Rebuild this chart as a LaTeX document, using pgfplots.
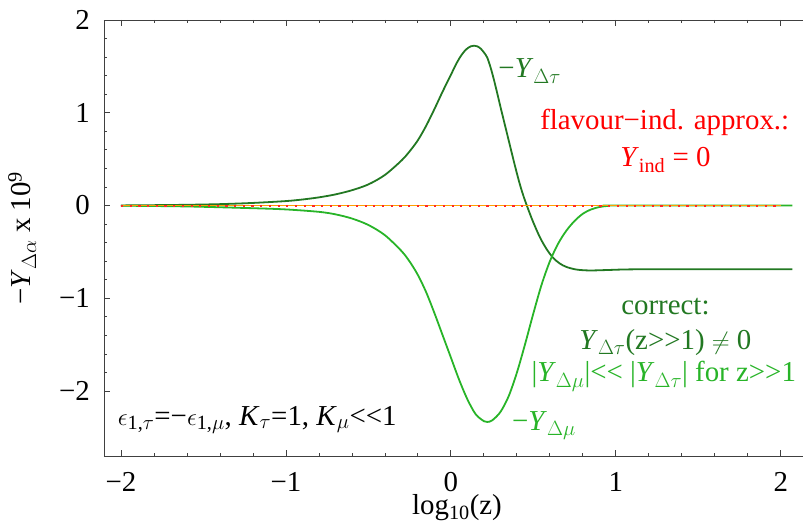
\documentclass[border=0pt]{standalone}
\usepackage{fontspec}
\setmainfont{Liberation Serif}
\usepackage{pgfplots}
\pgfplotsset{compat=1.18}

\definecolor{dkgreen}{RGB}{34,120,34}
\definecolor{ltgreen}{RGB}{40,180,40}
\definecolor{zred}{RGB}{255,40,40}
\definecolor{zorange}{RGB}{255,160,0}

\newcommand{\Y}{\textit{Y}}
\newcommand{\K}{\textit{K}}

% -Y_{Delta tau}
\pgfplotstableread{
x y
-2.00 0.001
-1.80 0.004
-1.60 0.008
-1.40 0.015
-1.20 0.028
-1.00 0.048
-0.90 0.065
-0.80 0.088
-0.70 0.120
-0.60 0.165
-0.50 0.228
-0.40 0.330
-0.30 0.485
-0.25 0.585
-0.20 0.705
-0.15 0.86
-0.10 1.04
-0.05 1.23
0.00 1.41
0.03 1.52
0.06 1.612
0.09 1.68
0.12 1.716
0.14 1.723
0.16 1.716
0.18 1.692
0.20 1.65
0.22 1.595
0.24 1.49
0.26 1.36
0.28 1.215
0.30 1.065
0.32 0.92
0.34 0.775
0.36 0.63
0.38 0.485
0.40 0.345
0.42 0.215
0.44 0.10
0.46 0.0
0.48 -0.095
0.50 -0.185
0.54 -0.345
0.58 -0.47
0.62 -0.565
0.66 -0.625
0.70 -0.662
0.76 -0.69
0.84 -0.700
0.95 -0.695
1.10 -0.688
1.50 -0.686
2.07 -0.686
}\tautable

% -Y_{Delta mu}
\pgfplotstableread{
x y
-2.00 -0.002
-1.60 -0.010
-1.20 -0.029
-1.00 -0.042
-0.80 -0.068
-0.70 -0.095
-0.60 -0.140
-0.50 -0.210
-0.40 -0.320
-0.30 -0.490
-0.25 -0.605
-0.20 -0.75
-0.15 -0.935
-0.10 -1.16
-0.05 -1.40
0.00 -1.64
0.05 -1.88
0.10 -2.09
0.15 -2.25
0.20 -2.325
0.22 -2.333
0.25 -2.316
0.30 -2.225
0.35 -2.055
0.40 -1.80
0.45 -1.49
0.50 -1.16
0.55 -0.85
0.60 -0.60
0.65 -0.41
0.70 -0.27
0.75 -0.165
0.80 -0.088
0.85 -0.042
0.90 -0.016
0.95 -0.004
1.00 0.0
2.07 0.0
}\mutable

\begin{document}
\fontsize{29}{34}\selectfont
\begin{tikzpicture}
\begin{axis}[
  anchor=south west, at={(0,0)},
  scale only axis, width=699bp, height=436bp,
  xmin=-2.103, xmax=2.134, ymin=-2.70, ymax=2,
  axis x line*=box, axis y line*=left,
  tick align=inside, clip=false,
  xtick={-2,-1,0,1,2}, xticklabels={−2,−1,0,1,2},
  ytick={-2,-1,0,1,2}, yticklabels={−2,−1,0,1,2},
  minor x tick num=4, minor y tick num=4,
  major tick length=6bp, minor tick length=3.5bp,
  axis line style={line width=0.9bp, black!75},
  every tick/.style={black!75, line width=0.9bp},
  xticklabel style={anchor=base, yshift=-35bp},
  yticklabel style={anchor=east, inner sep=0pt, xshift=-14bp},
  font=\fontsize{29}{34}\selectfont,
  xlabel={log\textsubscript{10}(z)},
  ylabel={−\Y\textsubscript{$\Delta\alpha$} x 10\textsuperscript{9}},
  every axis x label/.style={at={(axis description cs:0.505,-0.134)}, anchor=base},
  every axis y label/.style={at={(axis description cs:-0.117,0.5)}, rotate=90, anchor=center},
]
\addplot[dkgreen, line width=1.8bp, smooth, tension=0.5] table {\tautable};
\addplot[ltgreen, line width=1.8bp, smooth, tension=0.5] table {\mutable};
\addplot[draw=zorange, mark=none, line width=0.8bp] coordinates {(-2,0) (2,0)};
\addplot[draw=zred, mark=none, line width=2bp, dash pattern=on 2.2bp off 6.5bp] coordinates {(-2,0) (2,0)};

\node[anchor=base west, inner sep=0pt, text=dkgreen] at (axis cs:0.287,1.378) {−\Y\textsubscript{$\Delta\tau$}};
\node[anchor=base west, inner sep=0pt, text=ltgreen] at (axis cs:0.37,-2.42) {−\Y\textsubscript{$\Delta\mu$}};
\node[anchor=base, text=red] at (axis cs:1.296,0.816) {flavour−ind. approx.:};
\node[anchor=base, text=red] at (axis cs:1.30,0.42) {\Y\textsubscript{ind} = 0};
\node[anchor=base, text=dkgreen] at (axis cs:1.30,-1.18) {correct:};
\node[anchor=base, text=dkgreen] at (axis cs:1.30,-1.55) {\Y\textsubscript{$\Delta\tau$}(z>{}>1) $\neq$ 0};
\node[anchor=base, text=ltgreen] at (axis cs:1.29,-1.90) {|\Y\textsubscript{$\Delta\mu$}|<{}< |\Y\textsubscript{$\Delta\tau$}| for z>{}>1};
\node[anchor=base west, inner sep=0pt, text=black] at (axis cs:-2.02,-2.366)
  {$\epsilon$\textsubscript{1,$\tau$}=−$\epsilon$\textsubscript{1,$\mu$}, \K\textsubscript{$\tau$}=1, \K\textsubscript{$\mu$}<{}<1};
\end{axis}
\pgfresetboundingbox
\path[use as bounding box] (-104bp,-73bp) rectangle (699bp,456bp);
\end{tikzpicture}
\end{document}
